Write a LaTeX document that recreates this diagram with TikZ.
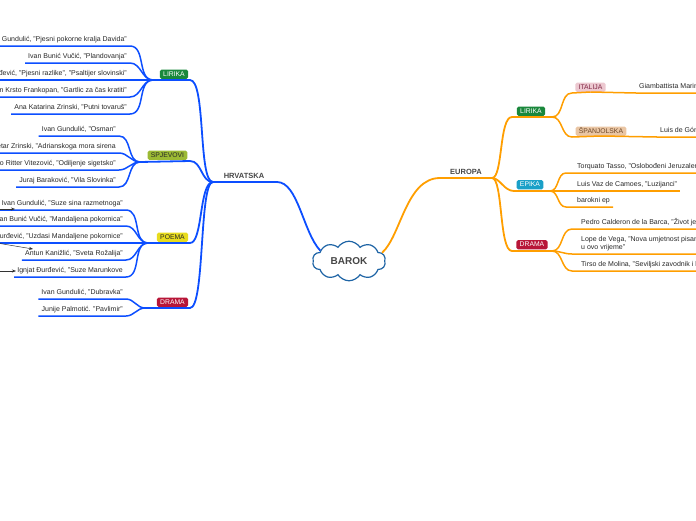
\documentclass[tikz,border=0pt]{standalone}
\usepackage{fontspec}
\setmainfont{Liberation Sans}
\usetikzlibrary{shapes.symbols,arrows.meta}
\definecolor{hblue}{RGB}{12,78,255}
\definecolor{eorange}{RGB}{255,158,0}
\definecolor{cloudblue}{RGB}{30,100,165}
\definecolor{lirgreen}{RGB}{26,136,60}
\definecolor{spjolive}{RGB}{156,186,52}
\definecolor{poemyellow}{RGB}{232,220,30}
\definecolor{dramared}{RGB}{184,22,56}
\definecolor{epiteal}{RGB}{26,160,200}
\definecolor{itpink}{RGB}{236,200,208}
\definecolor{ittext}{RGB}{130,40,70}
\definecolor{estan}{RGB}{234,198,164}
\definecolor{estext}{RGB}{110,72,40}
\definecolor{txt}{RGB}{40,40,40}
\definecolor{lbl}{RGB}{70,70,70}
\begin{document}
\begin{tikzpicture}[x=1pt,y=-1pt,
  leaf/.style={font=\fontsize{7}{8}\selectfont, text=txt, inner xsep=3pt, inner ysep=2.5pt, text height=5pt, text depth=1.5pt},
  lleaf/.style={leaf, anchor=south east},
  rleaf/.style={leaf, anchor=south west},
  mleaf/.style={font=\fontsize{7}{8}\selectfont, text=txt, inner xsep=3pt, inner ysep=2.5pt, align=left, anchor=south west},
  cat/.style={font=\fontsize{6.8}{7}\selectfont, rounded corners=1.5pt, inner xsep=3.3pt, inner ysep=1.8pt, text height=4.9pt, text depth=0.6pt, anchor=south},
  mainlbl/.style={font=\bfseries\fontsize{7.5}{8}\selectfont, text=lbl, inner sep=1.5pt, anchor=south},
  hl/.style={hblue, line width=1.8pt},
  hl2/.style={hblue, line width=1.5pt},
  el/.style={eorange, line width=1.8pt},
  el2/.style={eorange, line width=1.5pt},
  ptr/.style={-{Stealth[length=4pt,width=3pt]}, line width=0.5pt, black!80}
]
\useasboundingbox (0,0) rectangle (696,520);
\clip (0,0) rectangle (696,520);

% centre
\node[cloud, cloud puffs=10, cloud puff arc=115, aspect=2, draw=cloudblue, line width=1.2pt,
      minimum width=73pt, minimum height=39pt, fill=white, text=lbl,
      font=\bfseries\fontsize{10}{11}\selectfont] (barok) at (349,261) {BAROK};

% ---------------- HRVATSKA ----------------
\coordinate (hrv) at (213,182);
\coordinate (hrvE) at (277,182);
\node[mainlbl] (hrvatska) at (244,180) {HRVATSKA};
\draw[hl] (hrv) -- (hrvE) .. controls (298,182) and (303,232) .. (barok.160);

% LIRIKA
\node[cat, fill=lirgreen, text=white] (hlir) at (174,79) {LIRIKA};
\coordinate (hlirB) at (153,80);
\coordinate (hlirE) at (190,80);
\draw[hl] (hlirB) -- (hlirE) .. controls (206,80) and (198,182) .. (hrv);
\node[lleaf] (l1) at (130,46) {Ivan Gundulić, "Pjesni pokorne kralja Davida"};
\node[lleaf] (l2) at (130,63) {Ivan Bunić Vučić, "Plandovanja"};
\node[lleaf] (l3) at (130,80) {Ignjat Đurđević, "Pjesni razlike", "Psaltijer slovinski"};
\node[lleaf] (l4) at (130,97) {Fran Krsto Frankopan, "Gartlic za čas kratiti"};
\node[lleaf] (l5) at (130,114) {Ana Katarina Zrinski, "Putni tovaruš"};
\foreach \n in {l1,l2,l3,l4,l5}
  \draw[hl2] (\n.south west) -- (\n.south east) to[out=0,in=180] (hlirB);

% SPJEVOVI
\node[cat, fill=spjolive, text=txt] (hspj) at (167.5,160) {SPJEVOVI};
\coordinate (hspjB) at (140,162);
\coordinate (hspjE) at (190,161);
\draw[hl] (hspjB) -- (hspjE) .. controls (202,161) and (201,182) .. (hrv);
\node[lleaf] (s1) at (119,136) {Ivan Gundulić, "Osman"};
\node[lleaf] (s2) at (119,153) {Petar Zrinski, "Adrianskoga mora sirena};
\node[lleaf] (s3) at (119,170) {Pavao Ritter Vitezović, "Odiljenje sigetsko"};
\node[lleaf] (s4) at (119,187) {Juraj Baraković, "Vila Slovinka"};
\foreach \n in {s1,s2,s3,s4}
  \draw[hl2] (\n.south west) -- (\n.south east) to[out=0,in=180] (hspjB);

% POEMA
\node[cat, fill=poemyellow, text=txt] (hpoe) at (172.5,242) {POEMA};
\coordinate (hpoeB) at (148,243);
\coordinate (hpoeE) at (190,243);
\draw[hl] (hpoeB) -- (hpoeE) .. controls (203,243) and (199,182) .. (hrv);
\node[lleaf] (p1) at (126,210) {Ivan Gundulić, "Suze sina razmetnoga"};
\node[lleaf] (p2) at (126,226) {Ivan Bunić Vučić, "Mandaljena pokornica"};
\node[lleaf] (p3) at (126,243) {Ignjat Đurđević, "Uzdasi Mandaljene pokornice"};
\node[lleaf] (p4) at (126,260) {Antun Kanižlić, "Sveta Rožalija"};
\node[lleaf] (p5) at (126,277) {Ignjat Đurđević, "Suze Marunkove};
\foreach \n in {p1,p2,p3,p4,p5}
  \draw[hl2] (\n.south west) -- (\n.south east) to[out=0,in=180] (hpoeB);

% DRAMA
\node[cat, fill=dramared, text=white] (hdra) at (172.5,307) {DRAMA};
\coordinate (hdraB) at (145,308);
\coordinate (hdraE) at (190,308);
\draw[hl] (hdraB) -- (hdraE) .. controls (205,308) and (199,182) .. (hrv);
\node[lleaf] (d1) at (126,299) {Ivan Gundulić, "Dubravka"};
\node[lleaf] (d2) at (126,316) {Junije Palmotić. "Pavlimir"};
\foreach \n in {d1,d2}
  \draw[hl2] (\n.south west) -- (\n.south east) to[out=0,in=180] (hdraB);

% pointers from outside
\coordinate (a1s) at (-3,209);
\coordinate (a1e) at (15,209);
\coordinate (a2s) at (-3,243);
\coordinate (a2e) at (33,249);
\coordinate (a3s) at (-3,271);
\coordinate (a3e) at (16,271);
\draw[ptr] (a1s) -- (a1e);
\draw[ptr] (a2s) -- (a2e);
\draw[ptr] (a3s) -- (a3e);

% ---------------- EUROPA ----------------
\coordinate (eu) at (492,178);
\coordinate (euS) at (440,178);
\node[mainlbl] (europa) at (466,176) {EUROPA};
\draw[el] (barok.14) .. controls (401,236) and (406,178) .. (euS) -- (eu);

% LIRIKA
\node[cat, fill=lirgreen, text=white] (elir) at (531,116) {LIRIKA};
\coordinate (elirS) at (512,117);
\coordinate (elirB) at (552,117);
\draw[el] (eu) .. controls (503,178) and (499,117) .. (elirS) -- (elirB);

\node[cat, fill=itpink, text=ittext] (ital) at (590.5,92) {ITALIJA};
\coordinate (italS) at (572,93);
\draw[el2] (elirB) to[out=0,in=180] (italS) -- (ital.south);
\node[rleaf] (marino) at (636,93) {Giambattista Marino};
\draw[el2] (ital.south) -- (marino.south west) -- (marino.south east);

\node[cat, fill=estan, text=estext] (span) at (601,136) {ŠPANJOLSKA};
\coordinate (spanS) at (572,137);
\draw[el2] (elirB) to[out=0,in=180] (spanS) -- (span.south);
\node[rleaf] (gongora) at (657,137) {Luis de Góngora};
\draw[el2] (span.south) -- (gongora.south west) -- (gongora.south east);

% EPIKA
\node[cat, fill=epiteal, text=white] (epi) at (530,189.5) {EPIKA};
\coordinate (epiS) at (514,191);
\coordinate (epiB) at (550,191);
\draw[el] (eu) .. controls (500,178) and (504,191) .. (epiS) -- (epiB);
\node[rleaf] (e1) at (574,173) {Torquato Tasso, "Oslobođeni Jeruzalem"};
\node[rleaf] (e2) at (574,191) {Luis Vaz de Camoes, "Luzijanci"};
\node[rleaf] (e3) at (574,207) {barokni ep};
\foreach \n in {e1,e2,e3}
  \draw[el2] (epiB) to[out=0,in=180] ([xshift=-8pt]\n.south west) -- (\n.south east);

% DRAMA
\node[cat, fill=dramared, text=white] (edra) at (532,249.5) {DRAMA};
\coordinate (edraS) at (512,251);
\coordinate (edraB) at (552,251);
\draw[el] (eu) .. controls (503,178) and (499,251) .. (edraS) -- (edraB);
\node[rleaf] (r1) at (578,229) {Pedro Calderon de la Barca, "Život je san"};
\node[mleaf] (r2) at (578,254) {Lope de Vega, "Nova umjetnost pisanja komedija\\u ovo vrijeme"};
\node[rleaf] (r3) at (578,271) {Tirso de Molina, "Seviljski zavodnik i kameni gost"};
\foreach \n in {r1,r2,r3}
  \draw[el2] (edraB) to[out=0,in=180] ([xshift=-6pt]\n.south west) -- (\n.south east);
\end{tikzpicture}
\end{document}
